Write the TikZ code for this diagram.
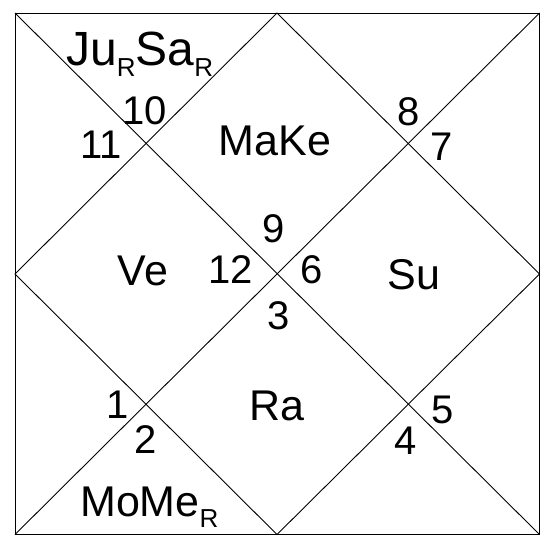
\documentclass[tikz,border=0pt]{standalone}
\usepackage{fontspec}
\setmainfont{Liberation Sans}
\newcommand\subR[1]{\raisebox{-11pt}{\fontsize{26}{26}\selectfont #1}}
\begin{document}
\begin{tikzpicture}[x=1pt,y=-1pt,
  chartline/.style={line width=0.9pt,black},
  num/.style={inner sep=0pt,font=\fontsize{40}{40}\selectfont},
  planet/.style={inner sep=0pt,font=\fontsize{43}{43}\selectfont}]
\useasboundingbox (0,0) rectangle (540,535);
\fill[white] (0,0) rectangle (540,535);
\coordinate (TL) at (15,13);
\coordinate (TR) at (539.5,13);
\coordinate (BR) at (539.5,534.5);
\coordinate (BL) at (15,534.5);
\coordinate (T) at (277,13);
\coordinate (B) at (277,534.5);
\coordinate (L) at (15,274);
\coordinate (R) at (539.5,274);
\draw[chartline] (TL) -- (TR) -- (BR) -- (BL) -- cycle;
\draw[chartline] (TL) -- (BR);
\draw[chartline] (TR) -- (BL);
\draw[chartline] (T) -- (R) -- (B) -- (L) -- cycle;
% houses
\node[num] (n10) at (145,111) {10};
\node[num] (n11) at (101,145) {11};
\node[num] (n8) at (409,112) {8};
\node[num] (n7) at (442,147) {7};
\node[num] (n9) at (274,229) {9};
\node[num] (n12) at (231,270) {12};
\node[num] (n6) at (312,270) {6};
\node[num] (n3) at (279,316) {3};
\node[num] (n1) at (118,405) {1};
\node[num] (n2) at (146,440) {2};
\node[num] (n4) at (406,441) {4};
\node[num] (n5) at (443,410) {5};
% planets
\node[planet] (make) at (275,141) {MaKe};
\node[planet] (ve) at (143,271) {Ve};
\node[planet] (su) at (414,275) {Su};
\node[planet] (ra) at (277,406) {Ra};
\node[planet,anchor=base west,font=\fontsize{48}{48}\selectfont] (jusa) at (66,65) {Ju\subR{R}Sa\subR{R}};
\node[planet,anchor=base west] (mome) at (80,516) {MoMe\subR{R}};
\end{tikzpicture}
\end{document}
